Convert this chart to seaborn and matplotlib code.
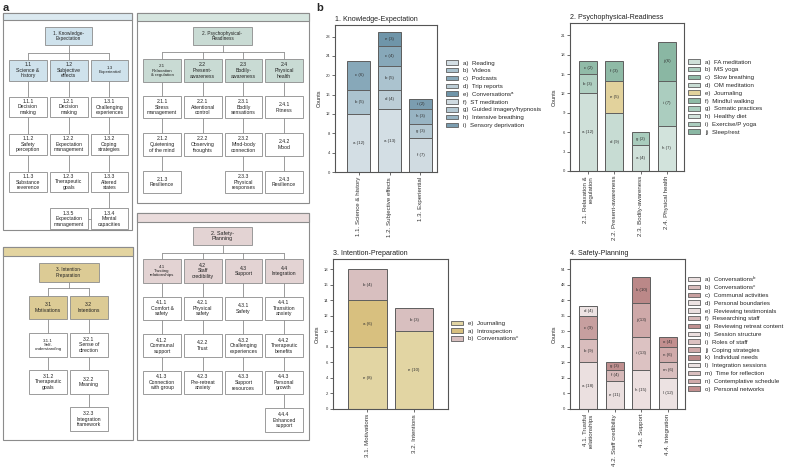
import numpy as np
import pandas as pd
import matplotlib
matplotlib.use("Agg")
import matplotlib.pyplot as plt
import seaborn as sns
from matplotlib.patches import Rectangle, Patch

sns.set_theme(style="white")
plt.rcParams["font.family"] = ["Liberation Sans", "DejaVu Sans"]

# ---------------- DATA (panel b) ----------------
ke_cats = ["1.1. Science & history", "1.2. Subjective effects", "1.3. Experiential"]
ke_seg_items = [["a", "b", "c"], ["a", "d", "b", "c", "e"], ["f", "g", "h", "i"]]
ke_seg_vals = [[12, 5, 6], [13, 4, 5, 4, 3], [7, 3, 3, 2]]
ke_keys = list("abcdefghi")
ke_names = ["Reading", "Videos", "Podcasts", "Trip reports", "Conversations\u1d43",
            "ST meditation", "Guided imagery/hypnosis", "Intensive breathing", "Sensory deprivation"]
ke_colors = ["#d3dee4", "#abc3cf", "#87a8b9", "#bccdd6", "#6f95a9",
             "#d0dbe1", "#b5c9d3", "#98b4c3", "#7b9db0"]

pr_cats = ["2.1. Relaxation &\nregulation", "2.2. Present-awareness", "2.3. Bodily-awareness", "2.4. Physical health"]
pr_seg_items = [["a", "b", "c"], ["d", "e", "f"], ["a", "g"], ["h", "i", "j"]]
pr_seg_vals = [[12, 3, 2], [9, 5, 3], [4, 2], [7, 7, 6]]
pr_keys = list("abcdefghij")
pr_names = ["FA meditation", "MS yoga", "Slow breathing", "OM meditation", "Journaling",
            "Mindful walking", "Somatic practices", "Healthy diet", "Exercise/P yoga", "Sleep/rest"]
pr_colors = ["#cfe0d9", "#afcfc1", "#91bba8", "#c7dcd3", "#e2d29c",
             "#8fbaa6", "#a9ccbd", "#d2e3dc", "#abcdbf", "#8ab7a3"]

ip_cats = ["3.1. Motivations", "3.2. Intentions"]
ip_seg_items = [["e", "a", "b"], ["e", "b"]]
ip_seg_vals = [[8, 6, 4], [10, 3]]
ip_keys = ["e", "a", "b"]
ip_names = ["Journaling", "Introspection", "Conversations\u1d9c"]
ip_colors = ["#e2d5a3", "#d8c07f", "#d8bfbf"]

sp_cats = ["4.1. Trustful\nrelationships", "4.2. Staff credibility", "4.3. Support", "4.4. Integration"]
sp_seg_items = [["a", "b", "c", "d"], ["e", "f", "g"], ["h", "i", "j", "k"], ["l", "m", "n", "o"]]
sp_seg_vals = [[18, 9, 9, 4], [11, 4, 3], [15, 13, 13, 10], [12, 6, 6, 4]]
sp_keys = list("abcdefghijklmno")
sp_names = ["Conversations\u1d47", "Conversations\u1d9c", "Communal activities", "Personal boundaries",
            "Reviewing testimonials", "Researching staff", "Reviewing retreat content", "Session structure",
            "Roles of staff", "Coping strategies", "Individual needs", "Integration sessions",
            "Time for reflection", "Contemplative schedule", "Personal networks"]
sp_colors = ["#ebe0e0", "#d9bdbd", "#c79f9f", "#ede3e3", "#eadfdf", "#d6b9b9", "#bf8f8f",
             "#ecdfdf", "#dcc2c2", "#cfa9a9", "#bb8888", "#ece2e2", "#d9bebe", "#d0aaaa", "#c28f8f"]

# ---------------- DATA (panel a) ----------------
t1_main = "1. Knowledge-\nExpectation"
t1_l2 = ["1.1\nScience &\nhistory", "1.2\nSubjective\neffects", "1.3\nExperiential"]
t1_leaves = [["1.1.1\nDecision\nmaking", "1.1.2\nSafety\nperception", "1.1.3\nSubstance\nreverence"],
             ["1.2.1\nDecision\nmaking", "1.2.2\nExpectation\nmanagement", "1.2.3\nTherapeutic\ngoals"],
             ["1.3.1\nChallenging\nexperiences", "1.3.2\nCoping\nstrategies", "1.3.3\nAltered\nstates",
              "1.3.4\nMental\ncapacities"]]
t1_extra = "1.3.5\nExpectation\nmanagement"

t2_main = "2. Psychophysical-\nReadiness"
t2_l2 = ["2.1\nRelaxation\n& regulation", "2.2\nPresent-\nawareness", "2.3\nBodily-\nawareness", "2.4\nPhysical\nhealth"]
t2_leaves = [["2.1.1\nStress\nmanagement", "2.1.2\nQuietening\nof the mind", "2.1.3\nResilience"],
             ["2.2.1\nAttentional\ncontrol", "2.2.2\nObserving\nthoughts"],
             ["2.3.1\nBodily\nsensations", "2.3.2\nMind-body\nconnection", "2.3.3\nPhysical\nresponses"],
             ["2.4.1\nFitness", "2.4.2\nMood", "2.4.3\nResilience"]]

t3_main = "3. Intention-\nPreparation"
t3_l2 = ["3.1\nMotivations", "3.2\nIntentions"]
t3_leaves = [["3.1.1\nSelf-\nunderstanding", "3.1.2\nTherapeutic\ngoals"],
             ["3.2.1\nSense of\ndirection", "3.2.2\nMeaning", "3.2.3\nIntegration\nframework"]]

t4_main = "2. Safety-\nPlanning"
t4_l2 = ["4.1\nTrusting\nrelationships", "4.2\nStaff\ncredibility", "4.3\nSupport", "4.4\nIntegration"]
t4_leaves = [["4.1.1\nComfort &\nsafety", "4.1.2\nCommunal\nsupport", "4.1.3\nConnection\nwith group"],
             ["4.2.1\nPhysical\nsafety", "4.2.2\nTrust", "4.2.3\nPre-retreat\nanxiety"],
             ["4.3.1\nSafety", "4.3.2\nChallenging\nexperiences", "4.3.3\nSupport\nresources"],
             ["4.4.1\nTransition\nanxiety", "4.4.2\nTherapeutic\nbenefits", "4.4.3\nPersonal\ngrowth",
              "4.4.4\nEnhanced\nsupport"]]

W, H = 787, 470
fig = plt.figure(figsize=(W / 100, H / 100), dpi=100)
fig.patch.set_facecolor("white")

# ---------------- Panel a (diagram in pixel coordinates) ----------------
axa = fig.add_axes([0, 0, 1, 1])
axa.set_xlim(0, W)
axa.set_ylim(H, 0)
axa.axis("off")
axa.patch.set_alpha(0)

LC = "#8c8c8c"


def box(x0, y0, x1, y1, fc, text, fs=3.7, lw=0.6):
    axa.add_patch(Rectangle((x0, y0), x1 - x0, y1 - y0, fc=fc, ec=LC, lw=lw, zorder=2))
    if text:
        lines = text.split("\n")
        if max(len(l) for l in lines) >= 12:
            fs = fs - 0.5
        axa.text((x0 + x1) / 2, (y0 + y1) / 2, text, ha="center", va="center",
                 fontsize=fs, linespacing=1.15, color="#222222", zorder=3)


def line(xs, ys):
    axa.plot(xs, ys, color=LC, lw=0.6, zorder=1)


def tree(outer, header_bot, fc, hfc, main_box, main_text, lefts, colw, l2_y, l2_h,
         l2_texts, row_tops, row_h, leaves, conn_y):
    x0, y0, x1, y1 = outer
    axa.add_patch(Rectangle((x0, y0), x1 - x0, y1 - y0, fc="white", ec=LC, lw=0.8, zorder=0.5))
    axa.add_patch(Rectangle((x0, y0), x1 - x0, header_bot - y0, fc=hfc, ec=LC, lw=0.8, zorder=0.6))
    mx0, my0, mx1, my1 = main_box
    box(mx0, my0, mx1, my1, fc, main_text, fs=3.9)
    centers = [l + colw / 2 for l in lefts]
    line([(mx0 + mx1) / 2] * 2, [my1, conn_y])
    line([centers[0], centers[-1]], [conn_y, conn_y])
    for c, l, t, col in zip(centers, lefts, l2_texts, leaves):
        line([c, c], [conn_y, l2_y])
        box(l, l2_y, l + colw, l2_y + l2_h, fc, t)
        line([c, c], [l2_y + l2_h, row_tops[len(col) - 1]])
        for r, lt in enumerate(col):
            box(l, row_tops[r], l + colw, row_tops[r] + row_h, "white", lt)
    return centers


axa.text(3, 8, "a", fontsize=8, fontweight="bold", ha="left", va="center")
axa.text(316, 8, "b", fontsize=8, fontweight="bold", ha="left", va="center")

lefts3 = [9.3, 50.0, 90.7]
rows1 = [96.7, 134.0, 171.7, 208.3]
tree((3, 12.7, 132, 230), 20.5, "#cfe2ec", "#dbe9f0", (45, 27, 92, 45), t1_main,
     lefts3, 37.5, 60, 20.5, t1_l2, rows1, 20.6, t1_leaves, 53)
box(lefts3[1], rows1[3], lefts3[1] + 37.5, rows1[3] + 20.6, "white", t1_extra)
line([lefts3[1] + 37.5, lefts3[2]], [rows1[3] + 10.3] * 2)

lefts4 = [143.3, 184.0, 224.7, 265.3]
tree((137, 12.7, 309, 203), 20.7, "#c9dbd4", "#d6e5df", (193, 27, 252, 45), t2_main,
     lefts4, 37.5, 59.3, 22.4, t2_l2, [96, 133.3, 171], 22.4, t2_leaves, 52)

tree((3, 247, 133, 440), 256, "#dccb95", "#e3d4a0", (38.5, 263, 98.5, 282), t3_main,
     [29.3, 70.0], 37.5, 296, 23, t3_l2, [333, 370, 407], 24, t3_leaves, 288)

tree((137, 213, 309, 440), 222, "#e3d3d3", "#eadcdc", (193, 227, 252, 245), t4_main,
     lefts4, 37.5, 259.3, 23.4, t4_l2, [296.7, 334, 370.7, 408.3], 23.4, t4_leaves, 252.7)

# ---------------- Panel b (stacked bars) ----------------
EDGE = "#5e5e5e"


def px_axes(l, r, t, b):
    return fig.add_axes([l / W, (H - b) / H, (r - l) / W, (b - t) / H])


def stacked(ax, title, cats, seg_items, seg_vals, keys, names, colors, width, xlim, ylim, yticks,
            leg_anchor):
    pal = dict(zip(keys, colors))
    rows = []
    for cat, items, vals in zip(cats, seg_items, seg_vals):
        cum = 0
        for lvl, (it, v) in enumerate(zip(items, vals)):
            rows.append(dict(category=cat, item=it, val=v, bottom=cum, top=cum + v, level=lvl))
            cum += v
    df = pd.DataFrame(rows)
    for lvl in sorted(df["level"].unique())[::-1]:
        sub = df[df["level"] == lvl]
        hord = list(dict.fromkeys(sub["item"]))
        sns.barplot(data=sub, x="category", y="top", hue="item", hue_order=hord, order=cats,
                    palette={k: pal[k] for k in hord}, dodge=False, width=width,
                    edgecolor=EDGE, linewidth=0.7, legend=False, ax=ax, errorbar=None,
                    saturation=1)
    for _, r in df.iterrows():
        ax.text(cats.index(r["category"]), r["bottom"] + r["val"] / 2, f"{r['item']} ({r['val']})",
                ha="center", va="center", fontsize=3.2, color="#333333")
    ax.set_xlim(*xlim)
    ax.set_ylim(*ylim)
    ax.set_yticks(yticks)
    ax.set_xticks(range(len(cats)))
    ax.set_xticklabels(cats, rotation=90, fontsize=4.4, multialignment="right")
    ax.tick_params(axis="y", labelsize=3, length=2, width=0.5, pad=1.5, left=True, colors="#333333")
    ax.tick_params(axis="x", length=2, width=0.5, pad=1.5, bottom=True, colors="#333333")
    ax.set_xlabel("")
    ax.set_ylabel("Counts", fontsize=4, labelpad=3)
    ax.set_title(title, loc="left", fontsize=5.1, pad=3, color="#222222")
    for s in ax.spines.values():
        s.set_color("#555555")
        s.set_linewidth(0.8)
    handles = [Patch(facecolor=c, edgecolor=EDGE, lw=0.6) for c in colors]
    labels = [f"{k})  {n}" for k, n in zip(keys, names)]
    ax.legend(handles, labels, loc="center left", bbox_to_anchor=leg_anchor, frameon=False,
              fontsize=4.4, handlelength=2.0, handleheight=0.75, handletextpad=0.8,
              labelspacing=0.4, borderaxespad=0, borderpad=0)


ax1 = px_axes(335, 437, 25, 172)
stacked(ax1, "1. Knowledge-Expectation", ke_cats, ke_seg_items, ke_seg_vals, ke_keys, ke_names,
        ke_colors, 0.75, (-0.78, 2.54), (0, 30.4), np.arange(0, 29, 4), (1.09, 0.53))

ax2 = px_axes(570, 684, 23, 171)
stacked(ax2, "2. Psychophysical-Readiness", pr_cats, pr_seg_items, pr_seg_vals, pr_keys, pr_names,
        pr_colors, 0.67, (-0.68, 3.65), (0, 22.9), np.arange(0, 22, 3), (1.035, 0.5))

ax3 = px_axes(333, 448, 259, 409)
stacked(ax3, "3. Intention-Preparation", ip_cats, ip_seg_items, ip_seg_vals, ip_keys, ip_names,
        ip_colors, 0.83, (-0.74, 1.73), (0, 19.3), np.arange(0, 19, 2), (1.026, 0.52))

ax4 = px_axes(570, 685, 259, 409)
stacked(ax4, "4. Safety-Planning", sp_cats, sp_seg_items, sp_seg_vals, sp_keys, sp_names,
        sp_colors, 0.67, (-0.68, 3.65), (0, 58), np.arange(0, 55, 6), (1.026, 0.5))

fig.savefig("out.png", dpi=100, facecolor="white")
